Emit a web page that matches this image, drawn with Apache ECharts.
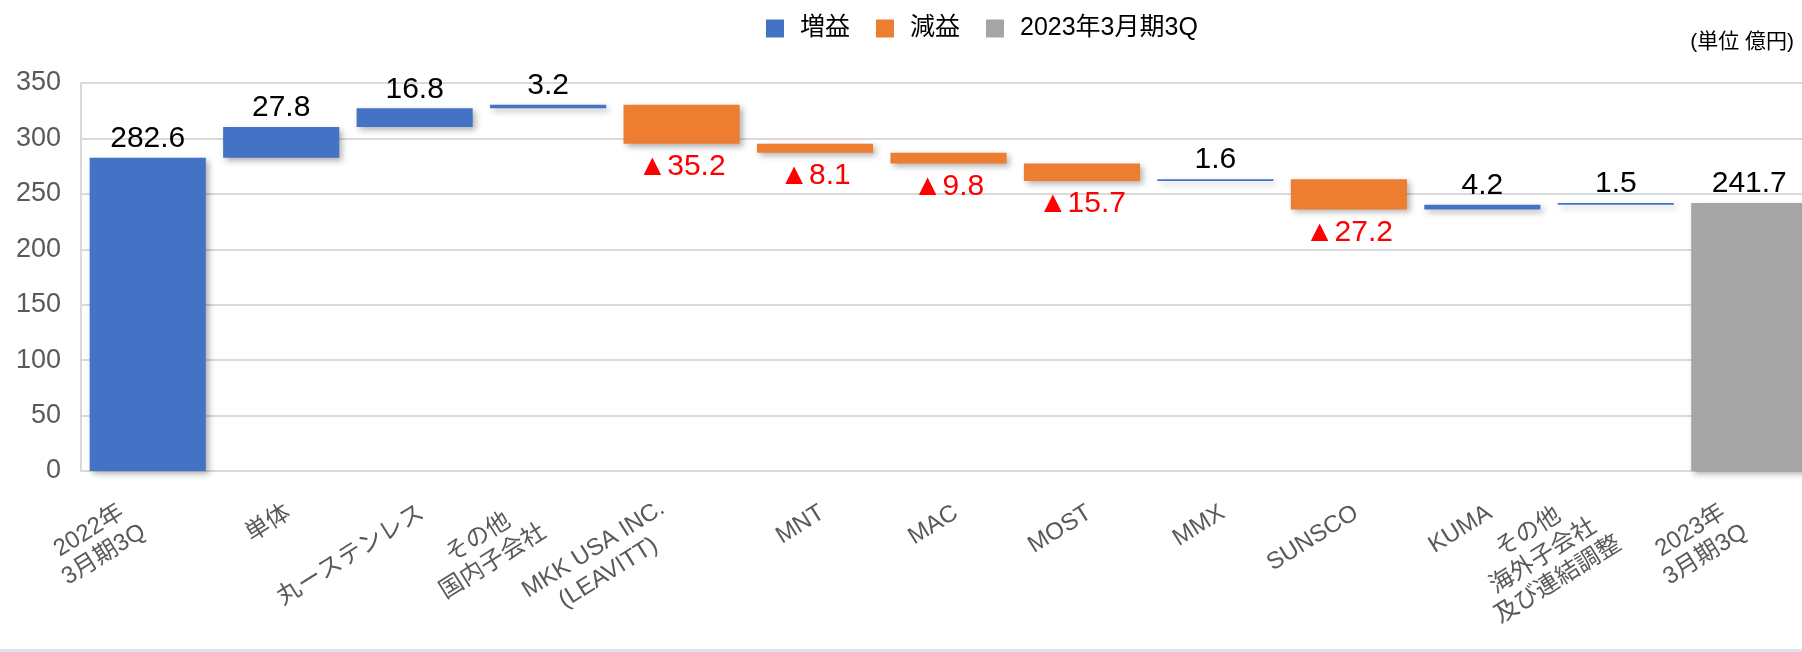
<!DOCTYPE html>
<html>
<head>
<meta charset="utf-8">
<script src="https://cdn.jsdelivr.net/npm/echarts@6/dist/echarts.min.js"></script>
<style>
  html, body { margin: 0; padding: 0; background: #fff; }
  #chart { width: 1802px; height: 652px; }
</style>
</head>
<body>
<div id="chart"></div>
<script>
const categories = [
  '2022年\n3月期3Q', '単体', '丸ーステンレス', 'その他\n国内子会社',
  'MKK USA INC.\n(LEAVITT)', 'MNT', 'MAC', 'MOST', 'MMX', 'SUNSCO', 'KUMA',
  'その他\n海外子会社\n及び連結調整', '2023年\n3月期3Q'
]
const startValue = 282.6
const deltas = [27.8, 16.8, 3.2, -35.2, -8.1, -9.8, -15.7, 1.6, -27.2, 4.2, 1.5]
const endValue = 241.7
const yTicks = [0, 50, 100, 150, 200, 250, 300, 350]
const legendNames = ['増益', '減益', '2023年3月期3Q']

// waterfall: invisible base + visible pieces, all on one stack
const base = [0]
const up = [startValue]
const down = ['-']
const total = ['-']
let level = startValue
deltas.forEach(d => {
  if (d >= 0) {
    base.push(level); up.push(d); down.push('-')
  } else {
    base.push(level + d); up.push('-'); down.push(-d)
  }
  total.push('-')
  level += d
})
base.push(0); up.push('-'); down.push('-'); total.push(endValue)

const latin = '"Liberation Sans", "Noto Sans CJK JP", sans-serif'
const shadow = {
  shadowColor: 'rgba(0, 0, 0, 0.3)',
  shadowBlur: 6,
  shadowOffsetX: 3,
  shadowOffsetY: 3
}
const barWidth = '87%'

// multi-line labels sit a bit further out, like the Excel original
const xData = categories.map(c => c.indexOf('\n') >= 0
  ? { value: c, textStyle: { padding: [20, 20, 0, 0] } }
  : c)

const chart = echarts.init(document.getElementById('chart'))
chart.setOption({
  animation: false,
  backgroundColor: '#fff',
  legend: {
    data: legendNames,
    left: 761,
    top: 11,
    icon: 'rect',
    itemWidth: 18,
    itemHeight: 18,
    itemGap: 26,
    textStyle: { fontSize: 25, color: '#000', fontFamily: latin, padding: [0, 0, 0, 11] }
  },
  graphic: [
    {
      type: 'text',
      right: 8,
      top: 32,
      style: { text: '(単位 億円)', fontSize: 21, fill: '#000', fontFamily: latin }
    },
    {
      type: 'rect',
      shape: { x: 0, y: 649, width: 1802, height: 3 },
      style: { fill: '#dfe1ee' }
    }
  ],
  // the plot runs past the right edge, as in the source picture
  grid: { left: 81, top: 83, width: 1735, bottom: 181, outerBoundsMode: 'none' },
  xAxis: {
    type: 'category',
    data: xData,
    axisLine: { lineStyle: { color: '#d9d9d9', width: 2 } },
    axisTick: { show: false },
    axisLabel: {
      interval: 0,
      rotate: 32,
      margin: 28,
      verticalAlign: 'top',
      color: '#595959',
      fontSize: 24,
      lineHeight: 28,
      fontFamily: latin,
      formatter: v => v.split('\n').map(s => '{c|' + s + '}').join('\n'),
      rich: { c: { align: 'center', fontSize: 24, lineHeight: 28, color: '#595959', fontFamily: latin } }
    }
  },
  yAxis: {
    type: 'value',
    min: yTicks[0],
    max: yTicks[yTicks.length - 1],
    interval: yTicks[1] - yTicks[0],
    axisLine: { show: true, lineStyle: { color: '#d9d9d9', width: 2 } },
    axisTick: { show: false },
    axisLabel: { margin: 20, color: '#595959', fontSize: 27, fontFamily: latin },
    splitLine: { lineStyle: { color: '#d9d9d9', width: 2 } }
  },
  series: [
    {
      name: 'base',
      type: 'bar',
      stack: 'wf',
      barWidth: barWidth,
      silent: true,
      itemStyle: { color: 'transparent' },
      data: base
    },
    {
      name: '増益',
      type: 'bar',
      stack: 'wf',
      barWidth: barWidth,
      itemStyle: Object.assign({ color: '#4472c4' }, shadow),
      label: {
        show: true,
        position: 'top',
        distance: 4,
        color: '#000',
        fontSize: 30,
        fontFamily: latin,
        formatter: p => p.value.toFixed(1)
      },
      data: up
    },
    {
      name: '減益',
      type: 'bar',
      stack: 'wf',
      barWidth: barWidth,
      itemStyle: Object.assign({ color: '#ed7d31' }, shadow),
      label: {
        show: true,
        position: 'bottom',
        distance: 8,
        color: '#ff0000',
        fontSize: 30,
        fontFamily: '"Liberation Sans", "DejaVu Sans", sans-serif',
        formatter: p => '▲' + p.value.toFixed(1)
      },
      data: down
    },
    {
      name: '2023年3月期3Q',
      type: 'bar',
      stack: 'wf',
      barWidth: barWidth,
      itemStyle: Object.assign({ color: '#a5a5a5' }, shadow),
      label: {
        show: true,
        position: 'top',
        distance: 4,
        color: '#000',
        fontSize: 30,
        fontFamily: latin,
        formatter: p => p.value.toFixed(1)
      },
      data: total
    }
  ]
})
</script>
</body>
</html>
